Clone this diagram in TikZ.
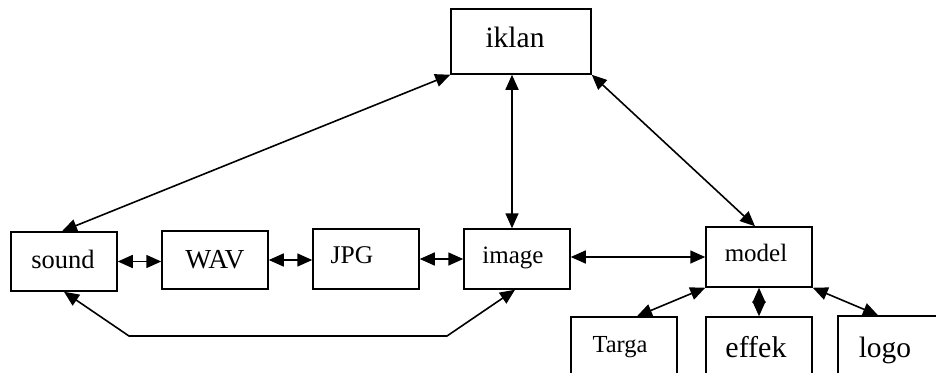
\documentclass[tikz,border=0pt]{standalone}
\usepackage{fontspec}
\setmainfont{Liberation Serif}
\usetikzlibrary{arrows.meta}

\begin{document}
\begin{tikzpicture}[x=1pt,y=-1pt,
  box/.style={draw,line width=1.5pt,inner sep=0pt,minimum width=106pt,minimum height=#1},
  box/.default=60pt,
  lbl/.style={anchor=base,inner sep=0pt},
  tip/.tip={Triangle[length=15pt,width=13pt]},
  link/.style={tip-tip,line width=1.6pt}]
  \useasboundingbox (0,0) rectangle (936,372);

  % boxes
  \node[box=65pt,minimum width=140pt] (iklan) at (521,41.5) {};
  \node[box=59pt] (sound) at (64,261.5) {};
  \node[box=58pt] (wav)   at (215,260) {};
  \node[box]      (jpg)   at (366,259) {};
  \node[box]      (image) at (517,259) {};
  \node[box]      (model) at (759,257) {};
  \node[box]      (targa) at (624,347) {};
  \node[box]      (effek) at (759,347) {};
  \node[box]      (logo)  at (891,346) {};

  % labels
  \node[lbl,font=\fontsize{29.5}{32}\selectfont] at (515,47) {iklan};
  \node[lbl,font=\fontsize{26.5}{30}\selectfont] at (63,268) {sound};
  \node[lbl,font=\fontsize{27.5}{30}\selectfont] at (215,268) {WAV};
  \node[lbl,font=\fontsize{25.5}{30}\selectfont] at (352,263) {JPG};
  \node[lbl,font=\fontsize{25}{30}\selectfont] at (513,263) {image};
  \node[lbl,font=\fontsize{25}{30}\selectfont] at (756,261) {model};
  \node[lbl,font=\fontsize{24.5}{30}\selectfont] at (620,352) {Targa};
  \node[lbl,font=\fontsize{30}{32}\selectfont] at (756,357) {effek};
  \node[lbl,font=\fontsize{29.5}{32}\selectfont] at (885,357) {logo};

  % connectors
  \coordinate (vx) at (512,0);
  \coordinate (b1) at (129,336);
  \coordinate (b2) at (447,336);

  \draw[link] (iklan.south west) -- ([xshift=-2pt]sound.north);
  \draw[link] (iklan.south -| vx) -- (image.north -| vx);
  \draw[link] (iklan.south east) -- ([xshift=-4pt]model.north);

  \draw[link] (sound.east) -- (sound.east -| wav.west);
  \draw[link] (wav.east) -- (wav.east -| jpg.west);
  \draw[link] (jpg.east) -- (jpg.east -| image.west);
  \draw[link] ([yshift=2pt]image.east) -- ([yshift=2pt]image.east -| model.west);

  \draw[link] (model.south west) -- ([xshift=13pt]targa.north);
  \draw[link] (model.south) -- (effek.north);
  \draw[link] (model.south east) -- ([xshift=-13pt]logo.north);

  \draw[link] (sound.south) -- (b1) -- (b2) -- ([xshift=-2pt]image.south);
\end{tikzpicture}
\end{document}
